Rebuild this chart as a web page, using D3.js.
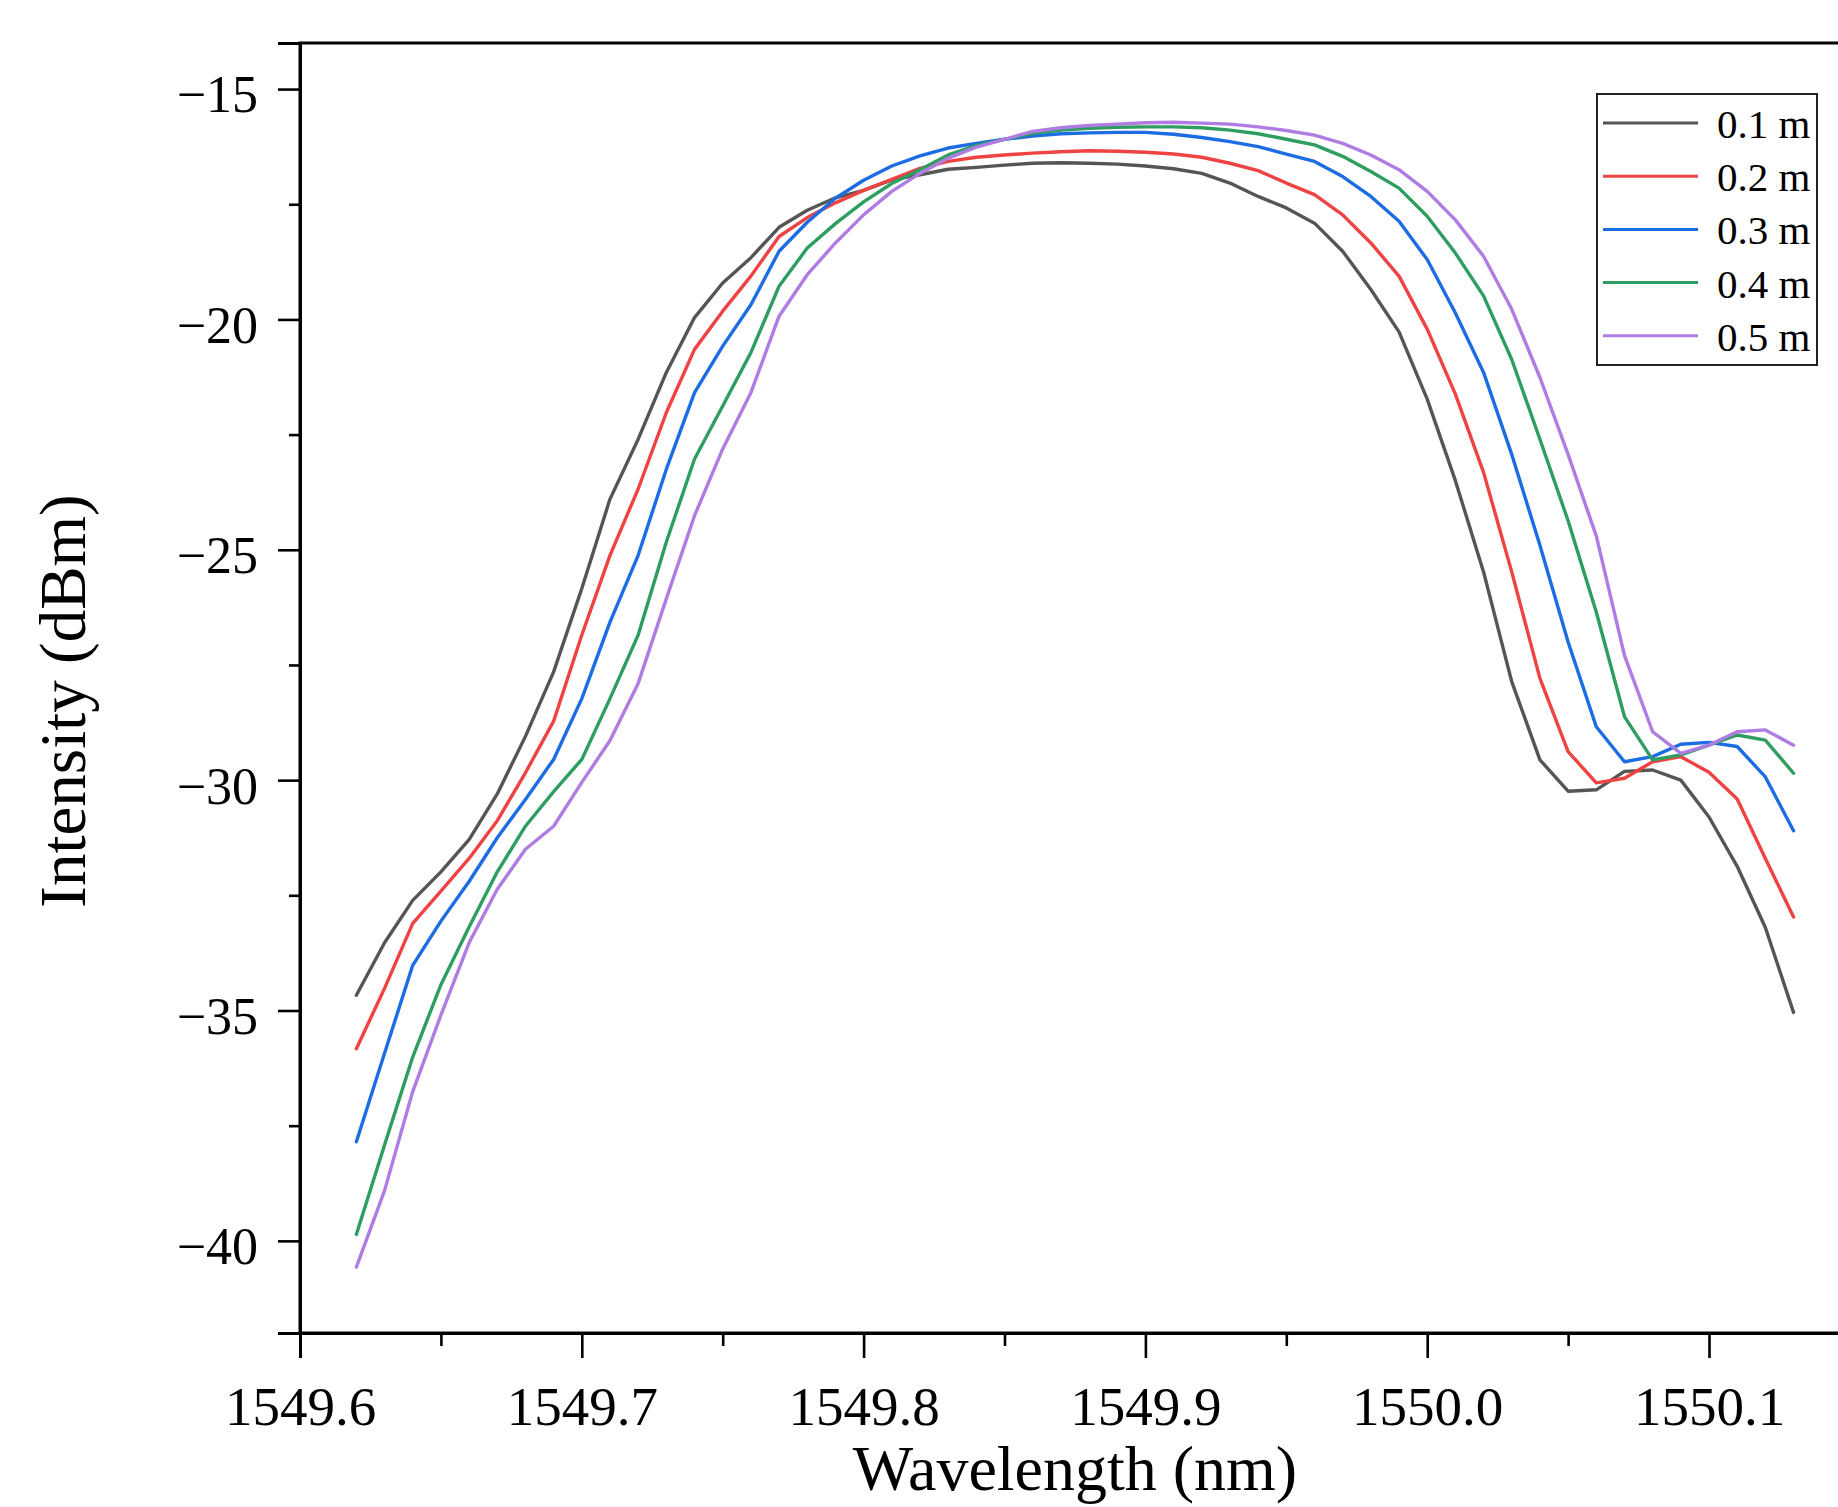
<!DOCTYPE html>
<html>
<head>
<meta charset="utf-8">
<script src="https://cdn.jsdelivr.net/npm/d3@7"></script>
<style>
  html, body { margin: 0; padding: 0; background: #fff; }
  svg { display: block; }
  text { font-family: "Liberation Serif", "Times New Roman", serif; fill: #000; }
</style>
</head>
<body>
<svg id="chart" width="1838" height="1507"></svg>
<script>
// ---------------- DATA ----------------
const wavelength = [
  1549.62, 1549.63, 1549.64, 1549.65, 1549.66, 1549.67, 1549.68, 1549.69, 1549.70, 1549.71,
  1549.72, 1549.73, 1549.74, 1549.75, 1549.76, 1549.77, 1549.78, 1549.79, 1549.80, 1549.81,
  1549.82, 1549.83, 1549.84, 1549.85, 1549.86, 1549.87, 1549.88, 1549.89, 1549.90, 1549.91,
  1549.92, 1549.93, 1549.94, 1549.95, 1549.96, 1549.97, 1549.98, 1549.99, 1550.00, 1550.01,
  1550.02, 1550.03, 1550.04, 1550.05, 1550.06, 1550.07, 1550.08, 1550.09, 1550.10, 1550.11,
  1550.12, 1550.13
];

const len01 = [
  -34.67, -33.53, -32.61, -31.99, -31.29, -30.30, -29.05, -27.65, -25.84, -23.90,
  -22.60, -21.15, -19.96, -19.21, -18.66, -18.00, -17.63, -17.36, -17.20, -16.97,
  -16.86, -16.74, -16.70, -16.65, -16.61, -16.60, -16.61, -16.63, -16.67, -16.73,
  -16.83, -17.04, -17.33, -17.58, -17.91, -18.52, -19.35, -20.27, -21.73, -23.50,
  -25.48, -27.86, -29.56, -30.24, -30.21, -29.81, -29.78, -30.00, -30.80, -31.87,
  -33.20, -35.04
];
const len02 = [
  -35.83, -34.52, -33.11, -32.41, -31.70, -30.88, -29.84, -28.72, -26.85, -25.12,
  -23.68, -22.02, -20.65, -19.82, -19.06, -18.20, -17.79, -17.47, -17.20, -16.96,
  -16.72, -16.57, -16.48, -16.43, -16.39, -16.36, -16.34, -16.35, -16.37, -16.41,
  -16.48, -16.61, -16.77, -17.04, -17.29, -17.73, -18.34, -19.06, -20.21, -21.62,
  -23.32, -25.48, -27.79, -29.38, -30.06, -29.96, -29.60, -29.49, -29.83, -30.41,
  -31.70, -32.97
];
const len03 = [
  -37.85, -35.93, -34.02, -33.06, -32.20, -31.25, -30.42, -29.55, -28.23, -26.57,
  -25.12, -23.25, -21.59, -20.58, -19.68, -18.52, -17.89, -17.37, -16.98, -16.67,
  -16.45, -16.28, -16.18, -16.09, -16.02, -15.97, -15.95, -15.94, -15.94, -15.98,
  -16.05, -16.14, -16.25, -16.41, -16.57, -16.90, -17.33, -17.87, -18.70, -19.86,
  -21.15, -22.93, -24.90, -27.00, -28.84, -29.60, -29.49, -29.22, -29.18, -29.27,
  -29.93, -31.10
];
const len04 = [
  -39.86, -37.92, -36.01, -34.44, -33.19, -31.99, -31.00, -30.25, -29.55, -28.23,
  -26.85, -24.83, -23.03, -21.88, -20.72, -19.28, -18.45, -17.92, -17.45, -17.05,
  -16.75, -16.43, -16.23, -16.09, -15.96, -15.89, -15.85, -15.83, -15.82, -15.82,
  -15.84, -15.89, -15.97, -16.09, -16.21, -16.46, -16.79, -17.15, -17.76, -18.56,
  -19.49, -20.87, -22.60, -24.37, -26.35, -28.62, -29.56, -29.45, -29.24, -29.02,
  -29.13, -29.85
];
const len05 = [
  -40.57, -38.91, -36.76, -35.10, -33.53, -32.37, -31.50, -31.00, -30.05, -29.14,
  -27.90, -26.06, -24.26, -22.81, -21.59, -19.93, -19.03, -18.34, -17.73, -17.22,
  -16.83, -16.50, -16.26, -16.09, -15.92, -15.84, -15.79, -15.76, -15.73, -15.72,
  -15.74, -15.76, -15.82, -15.90, -16.00, -16.18, -16.43, -16.75, -17.22, -17.84,
  -18.63, -19.78, -21.26, -22.93, -24.70, -27.29, -28.95, -29.42, -29.24, -28.95,
  -28.91, -29.24
];

const seriesNames = ["0.1 m", "0.2 m", "0.3 m", "0.4 m", "0.5 m"];
const seriesValues = [len01, len02, len03, len04, len05];
const seriesColors = ["#555555", "#ef4343", "#1c6de3", "#2e9e60", "#ae7ce2"];

const xMajorTicks = [1549.6, 1549.7, 1549.8, 1549.9, 1550.0, 1550.1];
const xTickLabels = ["1549.6", "1549.7", "1549.8", "1549.9", "1550.0", "1550.1"];
const xMinorTicks = [1549.65, 1549.75, 1549.85, 1549.95, 1550.05];
const yMajorTicks = [-40, -35, -30, -25, -20, -15];
const yTickLabels = ["\u221240", "\u221235", "\u221230", "\u221225", "\u221220", "\u221215"];
const yMinorTicks = [-37.5, -32.5, -27.5, -22.5, -17.5];

const xDomain = [1549.6, 1550.15];
const yDomain = [-42, -14];

// ---------------- LAYOUT ----------------
(function () {
const svg = d3.select("#chart");
const W = 1838, H = 1507;
const padL = 300, padT = 43, padB = 1333;
const padR = padL + 5.5 * 281.8;

svg.append("rect").attr("width", W).attr("height", H).attr("fill", "#fff");

const x = d3.scaleLinear().domain(xDomain).range([padL, padR]);
const y = d3.scaleLinear().domain(yDomain).range([padB, padT]);

// lines
const line = d3.line()
  .x((d, i) => x(wavelength[i]))
  .y(d => y(d));

const gLines = svg.append("g");
seriesValues.forEach((vals, k) => {
  gLines.append("path")
    .datum(vals)
    .attr("d", line)
    .attr("fill", "none")
    .attr("stroke", seriesColors[k])
    .attr("stroke-width", 3.4)
    .attr("stroke-linejoin", "round")
    .attr("stroke-linecap", "round");
});

// frame
svg.append("rect")
  .attr("x", padL).attr("y", padT)
  .attr("width", padR - padL).attr("height", padB - padT)
  .attr("fill", "none").attr("stroke", "#000").attr("stroke-width", 3);

// x axis
const xAxis = d3.axisBottom(x)
  .tickValues(xMajorTicks)
  .tickSize(25)
  .tickFormat((d, i) => xTickLabels[i]);
const gx = svg.append("g").attr("transform", `translate(0,${padB})`).call(xAxis);
gx.select(".domain").attr("stroke-width", 3);
gx.selectAll(".tick line").attr("stroke-width", 2.6);
gx.selectAll(".tick text")
  .attr("y", 92).attr("dy", 0)
  .style("font-family", "'Liberation Serif', serif")
  .style("font-size", "55px");

const xMinor = d3.axisBottom(x).tickValues(xMinorTicks).tickSize(13).tickFormat("");
const gxm = svg.append("g").attr("transform", `translate(0,${padB})`).call(xMinor);
gxm.select(".domain").remove();
gxm.selectAll(".tick line").attr("stroke-width", 2.6);

// y axis
const yAxis = d3.axisLeft(y)
  .tickValues(yMajorTicks)
  .tickSize(22)
  .tickPadding(20)
  .tickFormat((d, i) => yTickLabels[i]);
const gy = svg.append("g").attr("transform", `translate(${padL},0)`).call(yAxis);
gy.select(".domain").attr("stroke-width", 3);
gy.selectAll(".tick line").attr("stroke-width", 2.6);
gy.selectAll(".tick text")
  .attr("dy", "0.44em")
  .style("font-family", "'Liberation Serif', serif")
  .style("font-size", "52px");

const yMinor = d3.axisLeft(y).tickValues(yMinorTicks).tickSize(11).tickFormat("");
const gym = svg.append("g").attr("transform", `translate(${padL},0)`).call(yMinor);
gym.select(".domain").remove();
gym.selectAll(".tick line").attr("stroke-width", 2.6);

// axis titles
svg.append("text")
  .attr("x", (padL + padR) / 2).attr("y", 1490)
  .attr("text-anchor", "middle")
  .style("font-size", "64px")
  .text("Wavelength (nm)");

svg.append("text")
  .attr("transform", `translate(85,701) rotate(-90)`)
  .attr("text-anchor", "middle")
  .style("font-size", "65px")
  .text("Intensity (dBm)");

// legend
const lg = svg.append("g");
lg.append("rect")
  .attr("x", 1597).attr("y", 94).attr("width", 220).attr("height", 271)
  .attr("fill", "#fff").attr("stroke", "#222").attr("stroke-width", 2);
seriesNames.forEach((name, k) => {
  const ly = 123 + 53.2 * k;
  lg.append("line")
    .attr("x1", 1603).attr("x2", 1698).attr("y1", ly).attr("y2", ly)
    .attr("stroke", seriesColors[k]).attr("stroke-width", 3);
  lg.append("text")
    .attr("x", 1717).attr("y", ly + 15)
    .style("font-size", "41px")
    .text(name);
});
})();
</script>
</body>
</html>
